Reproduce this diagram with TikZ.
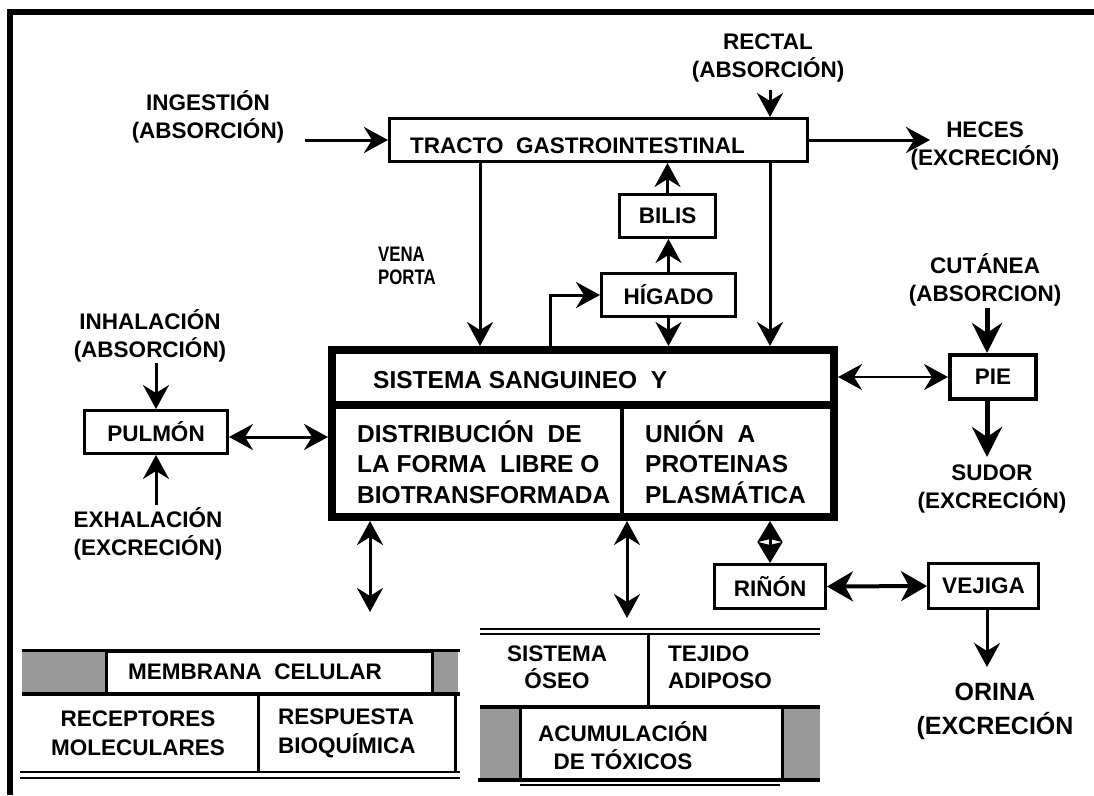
\documentclass[tikz,border=0pt]{standalone}
\usepackage{fontspec}
\setmainfont{Liberation Sans}
\newfontfamily\narrowsans{Liberation Sans}[FakeStretch=0.8]
\usetikzlibrary{arrows.meta}
\begin{document}
\begin{tikzpicture}[x=1pt,y=-1pt,
  lbl/.style={font=\bfseries\fontsize{22.5}{28}\selectfont, align=center, inner sep=0pt},
  lbll/.style={lbl, align=left, anchor=west},
  big/.style={font=\bfseries\fontsize{24.5}{30.5}\selectfont, align=left, inner sep=0pt, anchor=west},
  box/.style={draw, line width=3pt, font=\bfseries\fontsize{22.5}{27}\selectfont, inner sep=0pt},
  tip/.tip={Stealth[length=24pt,width=26pt,inset=8pt]},
  arr/.style={line width=3pt, -tip},
  darr/.style={line width=3pt, tip-tip},
  thickarr/.style={line width=5pt, -{Stealth[length=30pt,width=30pt,inset=10pt]}},
  graybox/.style={fill=black!40, draw=none}]
\useasboundingbox (0,0) rectangle (1094,795);

% outer frame (left and top edges only)
\draw[line width=6pt] (10,795) -- (10,12) -- (1094,12);

% ---------- boxes ----------
\node[box, minimum width=418, minimum height=43] (tracto) at (598.5,140) {};
\node[lbl, anchor=west] (tractotxt) at (410,146) {TRACTO\ \ GASTROINTESTINAL};
\node[box, minimum width=96,  minimum height=43] (bilis)  at (667.5,216) {BILIS};
\node[box, minimum width=134, minimum height=43] (higado) at (668.5,295) {HÍGADO};
\node[box, minimum width=143, minimum height=43] (pulmon) at (156,432)   {PULMÓN};
\node[box, line width=4pt, minimum width=86, minimum height=44] (pie) at (993,377) {PIE};
\node[box, minimum width=111, minimum height=44] (rinon)  at (770,586.5) {RIÑÓN};
\node[box, minimum width=110, minimum height=45] (vejiga) at (983.5,586) {VEJIGA};

% blood system block
\node[draw, line width=8pt, minimum width=502, minimum height=167, inner sep=0pt] (sangre) at (583,433.5) {};
\draw[line width=8pt] (sangre.west |- 0,405) -- (sangre.east |- 0,405);
\draw[line width=4pt] (622,405) -- (622,517);
\node[big] (sistema) at (373,380) {SISTEMA SANGUINEO\ \ Y};
\node[big] (distrib) at (357,462) {DISTRIBUCIÓN\ \ DE\\LA FORMA\ \ LIBRE O\\BIOTRANSFORMADA};
\node[big] (union) at (645,462) {UNIÓN\ \ A\\PROTEINAS\\PLASMÁTICA};

% ---------- free labels ----------
\node[lbl] (ing) at (208,117) {INGESTIÓN\\(ABSORCIÓN)};
\node[lbl] (rectal) at (768,58) {RECTAL\\(ABSORCIÓN)};
\node[lbl] (heces) at (985,146) {HECES\\(EXCRECIÓN)};
\node[font=\narrowsans\bfseries\fontsize{21}{23}\selectfont, align=left, inner sep=0pt, anchor=west] (vena) at (378,266) {VENA\\PORTA};
\node[lbl] (inhal) at (150,336) {INHALACIÓN\\(ABSORCIÓN)};
\node[lbl] (exhal) at (148,534) {EXHALACIÓN\\(EXCRECIÓN)};
\node[lbl] (cutanea) at (985,280) {CUTÁNEA\\(ABSORCION)};
\node[lbl] (sudor) at (992,489) {SUDOR\\(EXCRECIÓN)};
\node[lbl, font=\bfseries\fontsize{25}{34}\selectfont] (orina) at (995,711) {ORINA\\(EXCRECIÓN};

% ---------- free arrow ends ----------
\coordinate (xa) at (480,0);
\coordinate (xb) at (770,0);
\coordinate (xe) at (550,0);
\coordinate (ingin) at (305,140);
\coordinate (rectin) at (770,90);
\coordinate (hecesout) at (930,140);
\coordinate (inhin) at (156,363);
\coordinate (exhin) at (156,505);
\coordinate (cutin) at (987,308);
\coordinate (sudout) at (987,457);
\coordinate (memtop) at (370,612);
\coordinate (osetop) at (627,618);
\coordinate (orinout) at (987,667);

% ---------- connectors ----------
\draw[arr] (ingin) -- (tracto.west);
\draw[arr] (rectin) -- (rectin |- tracto.north);
\draw[arr] (tracto.east) -- (hecesout);
\draw[arr] (tracto.south -| xa) -- (sangre.north -| xa);
\draw[arr] (tracto.south -| xb) -- (sangre.north -| xb);
\draw[arr] (bilis.north) -- (bilis.north |- tracto.south);
\draw[arr] (higado.north) -- (higado.north |- bilis.south);
\draw[arr] (higado.south) -- (higado.south |- sangre.north);
\draw[arr] (sangre.north -| xe) |- (higado.west);
\draw[arr] (inhin) -- (inhin |- pulmon.north);
\draw[arr] (exhin) -- (exhin |- pulmon.south);
\draw[darr] ([yshift=-5pt]pulmon.east) -- ([yshift=-5pt]pulmon.east -| sangre.west);
\draw[line width=2.5pt, tip-tip] (sangre.east |- pie.west) -- (pie.west);
\draw[thickarr] (cutin) -- (cutin |- pie.north);
\draw[thickarr] (cutin |- pie.south) -- (sudout);
\draw[darr] (sangre.south -| memtop) -- (memtop);
\draw[darr] (sangre.south -| osetop) -- (osetop);
\draw[line width=3pt, {Stealth[length=21pt,width=25pt,inset=3pt]}-{Stealth[length=21pt,width=25pt,inset=3pt]}] (sangre.south -| rinon.north) -- (rinon.north);
\draw[line width=4pt, {Stealth[length=26pt,width=30pt,inset=8pt]}-{Stealth[length=26pt,width=30pt,inset=8pt]}] (rinon.east) -- (vejiga.west);
\draw[arr] (orinout |- vejiga.south) -- (orinout);

% ---------- cell membrane block ----------
\fill[graybox] (22,650) rectangle (107,694);
\fill[graybox] (432,650) rectangle (458,694);
\draw[line width=3pt] (22,650) -- (460,650);
\node[draw, line width=3pt, minimum width=326, minimum height=42, inner sep=0pt] (membrana) at (269,672) {};
\node[lbl] (membtxt) at (255,672) {MEMBRANA\ \ CELULAR};
\draw[line width=4pt] (22,694) -- (460,694);
\draw[line width=3pt] (258,694) -- (258,772);
\draw[line width=3pt] (455,694) -- (455,772);
\draw[line width=2.5pt] (20,772) -- (460,772);
\draw[line width=2pt] (20,777.5) -- (460,777.5);
\node[lbl, font=\bfseries\fontsize{22.5}{29}\selectfont] (receptores) at (138,733) {RECEPTORES\\MOLECULARES};
\node[lbll, font=\bfseries\fontsize{22.5}{29}\selectfont] (respuesta) at (278,733) {RESPUESTA\\BIOQUÍMICA};

% ---------- storage block ----------
\draw[line width=2pt] (480,629) -- (820,629);
\draw[line width=2pt] (480,634) -- (820,634);
\draw[line width=3pt] (648,634) -- (648,707);
\node[lbl, font=\bfseries\fontsize{22.5}{27}\selectfont] (osea) at (557,667) {SISTEMA\\ÓSEO};
\node[lbll, font=\bfseries\fontsize{22.5}{27}\selectfont] (tejido) at (668,667) {TEJIDO\\ADIPOSO};
\fill[graybox] (480,707) rectangle (520,780);
\fill[graybox] (782,707) rectangle (820,780);
\draw[line width=4pt] (480,707) -- (820,707);
\draw[line width=3pt] (520,707) -- (520,780);
\draw[line width=3pt] (782,707) -- (782,780);
\draw[line width=4pt] (478,780) -- (820,780);
\draw[line width=1.5pt] (520,785) -- (780,785);
\node[lbl, font=\bfseries\fontsize{22.5}{28}\selectfont] (acum) at (623,746) {ACUMULACIÓN\\DE TÓXICOS};
\end{tikzpicture}
\end{document}
